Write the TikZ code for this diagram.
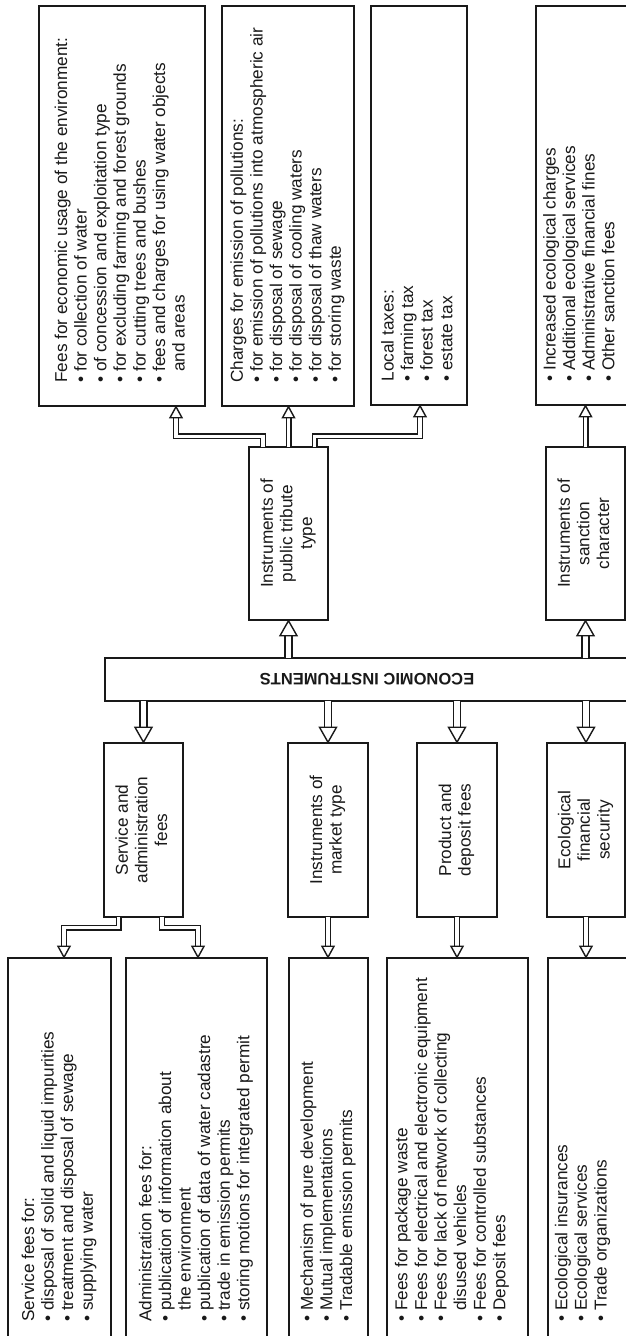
\documentclass[tikz,border=0pt]{standalone}
\usepackage{fontspec}
\setmainfont{Liberation Sans}
\usetikzlibrary{calc}
\definecolor{ink}{gray}{0.1}
\tikzset{
  box/.style={draw=ink, line width=1.5pt, inner sep=0pt, fill=white, text=ink,
    font=\fontsize{17.2}{19.6}\selectfont},
  txt/.style={inner sep=0pt, text=ink, font=\fontsize{17.2}{19.6}\selectfont},
  mlink/.style={draw=ink, line width=1.6pt, double=white, double distance=5.6pt,
    line join=miter, shorten <=-0.75pt, shorten >=15pt},
  slink/.style={draw=ink, line width=1.4pt, double=white, double distance=3.2pt,
    line join=miter, shorten <=-0.75pt, shorten >=11pt},
  head/.style={draw=ink, fill=white, line width=1.4pt, line join=miter},
}
% open arrow heads: tip point, half width, length
\newcommand\hdup[3]{\draw[head] (#1) -- ++(-#2,#3) -- ++(2*#2,0) -- cycle;}
\newcommand\hddown[3]{\draw[head] (#1) -- ++(-#2,-#3) -- ++(2*#2,0) -- cycle;}
\newcommand\vlist[1]{\rotatebox{90}{\begin{tabular}{@{}l@{}}#1\end{tabular}}}
\newcommand\vcent[1]{\rotatebox{90}{\begin{tabular}{@{}c@{}}#1\end{tabular}}}
\newcommand\ind{\hphantom{•\ }}
\begin{document}
\begin{tikzpicture}[x=1pt, y=-1pt]
\useasboundingbox (0,0) rectangle (626,1336);
\clip (0,0) rectangle (626,1336);

% ---- upper lists
\node[box, minimum width=166pt, minimum height=400pt] (fA) at (122,206) {};
\node[box, minimum width=132pt, minimum height=400pt] (fB) at (288,206) {};
\node[box, minimum width=96pt,  minimum height=399pt] (fC) at (419,205.5) {};
\node[box, minimum width=94pt,  minimum height=399pt] (fD) at (583,205.5) {};

\node[txt, anchor=south] (tA) at ([yshift=24pt]fA.south) {\vlist{%
Fees for economic usage of the environment:\\
• for collection of water\\
• of concession and exploitation type\\
• for excluding farming and forest grounds\\
• for cutting trees and bushes\\
• fees and charges for using water objects\\
\ind and areas}};
\node[txt, anchor=south] (tB) at ([yshift=24pt]fB.south) {\vlist{%
Charges for emission of pollutions:\\
• for emission of pollutions into atmospheric air\\
• for disposal of sewage\\
• for disposal of cooling waters\\
• for disposal of thaw waters\\
• for storing waste}};
\node[txt, anchor=south] (tC) at ([yshift=24pt]fC.south) {\vlist{%
Local taxes:\\
• farming tax\\
• forest tax\\
• estate tax}};
\node[txt, anchor=south] (tD) at ([xshift=-2pt, yshift=24pt]fD.south) {\vlist{%
• Increased ecological charges\\
• Additional ecological services\\
• Administrative financial fines\\
• Other sanction fees}};

% ---- second level, upper side
\node[box, minimum width=79pt, minimum height=173pt] (trib) at (288.5,533.5)
  {\vcent{Instruments of\\public tribute\\type}};
\node[box, minimum width=79pt, minimum height=173pt] (sanc) at (585.5,533.5)
  {\vcent{Instruments of\\sanction\\character}};

% ---- root bar
\node[box, minimum width=524pt, minimum height=43pt] (bar) at (367,679.5)
  {\rotatebox{180}{\fontsize{16.5}{19}\selectfont\bfseries ECONOMIC INSTRUMENTS}};

% ---- second level, lower side
\node[box, minimum width=79pt, minimum height=174pt] (sa) at (143.5,830)
  {\vcent{Service and\\administration\\fees}};
\node[box, minimum width=80pt, minimum height=174pt] (mk) at (328,830)
  {\vcent{Instruments of\\market type}};
\node[box, minimum width=80pt, minimum height=174pt] (pd) at (457,830)
  {\vcent{Product and\\deposit fees}};
\node[box, minimum width=78pt, minimum height=174pt] (ef) at (586,830)
  {\vcent{Ecological\\financial\\security}};

% ---- lower lists
\node[box, minimum width=103pt, minimum height=388pt] (sl) at (59.5,1152) {};
\node[box, minimum width=141pt, minimum height=388pt] (al) at (196.5,1152) {};
\node[box, minimum width=79pt,  minimum height=388pt] (ml) at (328.5,1152) {};
\node[box, minimum width=141pt, minimum height=388pt] (pl) at (457.5,1152) {};
\node[box, minimum width=82pt,  minimum height=388pt] (el) at (589,1152) {};

\node[txt, anchor=south] (tS) at ([yshift=25pt]sl.south) {\vlist{%
Service fees for:\\
• disposal of solid and liquid impurities\\
• treatment and disposal of sewage\\
• supplying water}};
\node[txt, anchor=south] (tAd) at ([yshift=25pt]al.south) {\vlist{%
Administration fees for:\\
• publication of information about\\
\ind the environment\\
• publication of data of water cadastre\\
• trade in emission permits\\
• storing motions for integrated permit}};
\node[txt, anchor=south] (tM) at ([yshift=25pt]ml.south) {\vlist{%
• Mechanism of pure development\\
• Mutual implementations\\
• Tradable emission permits}};
\node[txt, anchor=south] (tP) at ([xshift=-5pt, yshift=25pt]pl.south) {\vlist{%
• Fees for package waste\\
• Fees for electrical and electronic equipment\\
• Fees for lack of network of collecting\\
\ind disused vehicles\\
• Fees for controlled substances\\
• Deposit fees}};
\node[txt, anchor=south] (tE) at ([xshift=-6pt, yshift=25pt]el.south) {\vlist{%
• Ecological insurances\\
• Ecological services\\
• Trade organizations}};

% ---- main connectors from the bar
\draw[mlink] (trib.south |- bar.north) -- (trib.south);
\draw[mlink] (sanc.south |- bar.north) -- (sanc.south);
\draw[mlink] (sa.north |- bar.south) -- (sa.north);
\draw[mlink] (mk.north |- bar.south) -- (mk.north);
\draw[mlink] (pd.north |- bar.south) -- (pd.north);
\draw[mlink] (ef.north |- bar.south) -- (ef.north);
\hdup{trib.south}{8.5}{15}
\hdup{sanc.south}{8.5}{15}
\hddown{sa.north}{8.5}{15}
\hddown{mk.north}{8.5}{15}
\hddown{pd.north}{8.5}{15}
\hddown{ef.north}{8.5}{15}

% ---- upper small connectors
\draw[slink] ([xshift=-25.5pt]trib.north) -- ++(0,-10) -| ([xshift=54pt]fA.south);
\draw[slink] (trib.north) -- (trib.north |- fB.south);
\draw[slink] ([xshift=26pt]trib.north) -- ++(0,-10) -| ([xshift=1pt]fC.south);
\draw[slink] (sanc.north) -- (sanc.north |- fD.south);
\hdup{[xshift=54pt]fA.south}{6}{11}
\hdup{trib.north |- fB.south}{6}{11}
\hdup{[xshift=1pt]fC.south}{6}{11}
\hdup{sanc.north |- fD.south}{6}{11}

% ---- lower small connectors
\draw[slink] ([xshift=-24.8pt]sa.south) -- ++(0,10) -| ([xshift=4.5pt]sl.north);
\draw[slink] ([xshift=18.5pt]sa.south) -- ++(0,10) -| ([xshift=1.5pt]al.north);
\draw[slink] (mk.south) -- (mk.south |- ml.north);
\draw[slink] (pd.south) -- (pd.south |- pl.north);
\draw[slink] (ef.south) -- (ef.south |- el.north);
\hddown{[xshift=4.5pt]sl.north}{6}{11}
\hddown{[xshift=1.5pt]al.north}{6}{11}
\hddown{mk.south |- ml.north}{6}{11}
\hddown{pd.south |- pl.north}{6}{11}
\hddown{ef.south |- el.north}{6}{11}
\end{tikzpicture}
\end{document}
